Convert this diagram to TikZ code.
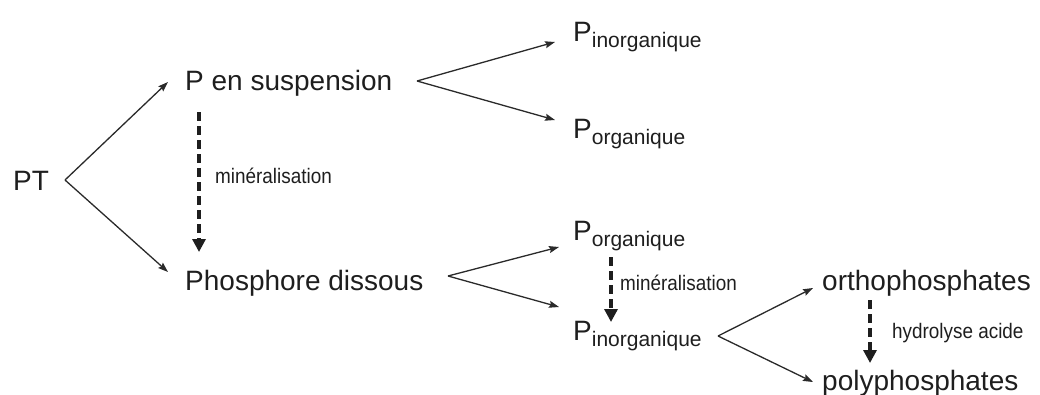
\documentclass[tikz,border=0pt]{standalone}
\usepackage{fontspec}
\setmainfont{Liberation Sans}
\newfontfamily\narrowfont[FakeStretch=0.9]{Liberation Sans}
\usetikzlibrary{arrows.meta,calc}
\definecolor{ink}{HTML}{1E1E1E}
\definecolor{lineink}{HTML}{2A2A2A}
\newcommand\psub[1]{P\raisebox{-6pt}{\fontsize{21}{21}\selectfont #1}}
\tikzset{
  lbl/.style={anchor=base west,inner sep=0pt,text=ink,font=\fontsize{28}{28}\selectfont},
  note/.style={anchor=base west,inner sep=0pt,text=ink,font=\narrowfont\fontsize{21}{21}\selectfont},
  arr/.style={draw=lineink,line width=1.3pt,-{Stealth[length=10pt,width=7pt,inset=1.5pt]}},
  dasharr/.style={draw=ink,line width=3.2pt,dash pattern=on 9pt off 5pt,-{Triangle[length=13pt,width=13pt]}}
}
\begin{document}
\begin{tikzpicture}[x=1pt,y=-1pt]
\useasboundingbox (0,0) rectangle (1040,394);
\clip (0,0) rectangle (1040,394);
% nodes
\node[lbl] (PT) at (13,190) {PT};
\node[lbl] (psusp) at (185,90) {P en suspension};
\node[lbl] (pdiss) at (185,290) {Phosphore dissous};
\node[lbl] (pin1) at (573,41) {\psub{inorganique}};
\node[lbl] (porg1) at (573,138) {\psub{organique}};
\node[lbl] (porg2) at (573,240) {\psub{organique}};
\node[lbl] (pin2) at (573,340) {\psub{inorganique}};
\node[lbl] (ortho) at (822,290) {orthophosphates};
\node[lbl] (poly) at (822,390) {polyphosphates};
\node[note] (min1) at (215,183) {minéralisation};
\node[note] (min2) at (620,290) {minéralisation};
\node[note] (hydro) at (892,338) {hydrolyse acide};
% branch points
\coordinate (v1) at (65,180);
\coordinate (v2) at (417,81);
\coordinate (v3) at (448,276);
\coordinate (v4) at (718,336);
% solid arrows
\draw[arr] (v1) -- ($(psusp.base west)+(-17,-8)$);
\draw[arr] (v1) -- ($(pdiss.base west)+(-17,-18)$);
\draw[arr] (v2) -- ($(pin1.base west)+(-18,1)$);
\draw[arr] (v2) -- ($(porg1.base west)+(-18,-18)$);
\draw[arr] (v3) -- ($(porg2.base west)+(-14,7)$);
\draw[arr] (v3) -- ($(pin2.base west)+(-14,-33)$);
\draw[arr] (v4) -- ($(ortho.base west)+(-9,-2)$);
\draw[arr] (v4) -- ($(poly.base west)+(-9,-8)$);
% dashed arrows
\draw[dasharr] ($(psusp.base west)+(14,22)$) -- ($(pdiss.base west)+(14,-38)$);
\draw[dasharr] ($(porg2.base west)+(38,17)$) -- ($(pin2.base west)+(38,-18)$);
\draw[dasharr] ($(ortho.base west)+(48,10)$) -- ($(poly.base west)+(48,-27)$);
\end{tikzpicture}
\end{document}
